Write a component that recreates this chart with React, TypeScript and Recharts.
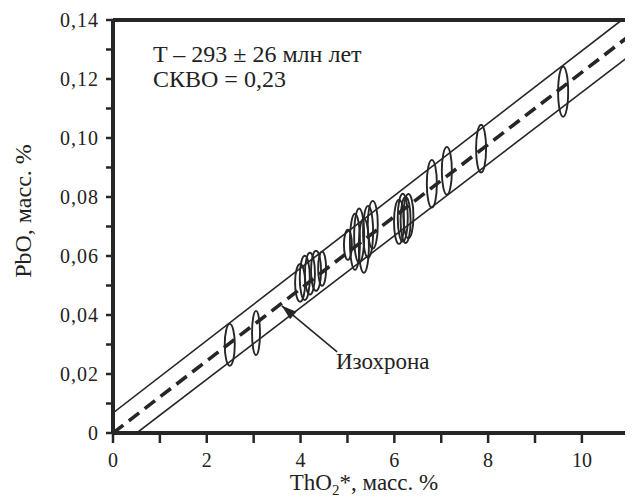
import * as R from 'recharts';

const { ScatterChart, Scatter, XAxis, YAxis, ReferenceLine } = R;

// axis setup
const X_MAX = 11.09;
const Y_MAX = 0.14;
const xTicks = [0, 1, 2, 3, 4, 5, 6, 7, 8, 9, 10];
const xTickLabels = ['0', '', '2', '', '4', '', '6', '', '8', '', '10'];
const yTicks = [0, 0.01, 0.02, 0.03, 0.04, 0.05, 0.06, 0.07, 0.08, 0.09, 0.1, 0.11, 0.12, 0.13, 0.14];
const yTickLabels = ['0', '', '0,02', '', '0,04', '', '0,06', '', '0,08', '', '0,10', '', '0,12', '', '0,14'];

// analyses: centre (ThO2*, PbO) and 2-sigma half-widths
const ellipses = [
  { x: 2.49, y: 0.0299, rx: 0.107, ry: 0.0071 },
  { x: 3.05, y: 0.0339, rx: 0.085, ry: 0.0075 },
  { x: 3.99, y: 0.0509, rx: 0.107, ry: 0.0064 },
  { x: 4.09, y: 0.0526, rx: 0.107, ry: 0.0075 },
  { x: 4.2, y: 0.054, rx: 0.107, ry: 0.0071 },
  { x: 4.33, y: 0.055, rx: 0.107, ry: 0.0068 },
  { x: 4.46, y: 0.0557, rx: 0.085, ry: 0.0058 },
  { x: 5.01, y: 0.0638, rx: 0.085, ry: 0.0051 },
  { x: 5.16, y: 0.0648, rx: 0.107, ry: 0.0095 },
  { x: 5.25, y: 0.0669, rx: 0.107, ry: 0.0092 },
  { x: 5.35, y: 0.0635, rx: 0.107, ry: 0.0092 },
  { x: 5.44, y: 0.0682, rx: 0.107, ry: 0.0088 },
  { x: 5.54, y: 0.0706, rx: 0.107, ry: 0.0081 },
  { x: 6.1, y: 0.0716, rx: 0.107, ry: 0.0075 },
  { x: 6.18, y: 0.073, rx: 0.107, ry: 0.0081 },
  { x: 6.24, y: 0.0722, rx: 0.107, ry: 0.0078 },
  { x: 6.3, y: 0.0735, rx: 0.107, ry: 0.0075 },
  { x: 6.8, y: 0.0845, rx: 0.107, ry: 0.0081 },
  { x: 7.12, y: 0.0889, rx: 0.107, ry: 0.0081 },
  { x: 7.85, y: 0.0964, rx: 0.107, ry: 0.0081 },
  { x: 9.6, y: 0.1157, rx: 0.107, ry: 0.0085 },
];

// isochron and its error envelope (end points)
const isochron = [{ x: 0, y: 0 }, { x: 11.09, y: 0.1356 }];
const upperBound = [{ x: 0, y: 0.0068 }, { x: 10.85, y: 0.14 }];
const lowerBound = [{ x: 0.505, y: 0 }, { x: 11.09, y: 0.1288 }];

// pointer to the isochron
const arrowLine = [{ x: 4.78, y: 0.0275 }, { x: 3.6, y: 0.0431 }];
const arrowTip = [{ x: 3.6, y: 0.0431 }];
const ARROW_ANGLE = -140;

const INK = '#262626';
const FONT = '"Liberation Serif", "DejaVu Serif", "Times New Roman", serif';

const usePlotAreaSafe: () => any = (R as any).usePlotArea || (() => undefined);

function EllipseMark(props: any) {
  const area = usePlotAreaSafe();
  const { cx, cy, payload } = props;
  if (cx == null || cy == null) return null;
  const w = area?.width ?? 520;
  const h = area?.height ?? 413;
  return (
    <ellipse
      cx={cx}
      cy={cy}
      rx={(payload.rx * w) / X_MAX}
      ry={(payload.ry * h) / Y_MAX}
      fill="none"
      stroke={INK}
      strokeWidth={1.9}
    />
  );
}

function ArrowHead(props: any) {
  const { cx, cy } = props;
  if (cx == null) return null;
  return (
    <polygon
      points="0,0 -15,-5 -15,5"
      fill={INK}
      transform={`translate(${cx},${cy}) rotate(${ARROW_ANGLE})`}
    />
  );
}

const noDot = () => <g />;

const labelFor = (ticks: number[], labels: string[]) => (v: number) => {
  const i = ticks.findIndex((t) => Math.abs(t - v) < 1e-9);
  return i >= 0 ? labels[i] : '';
};

export default function App() {
  const tickStyle = { fill: '#222', fontSize: 20, style: { fontFamily: FONT } };
  return (
    <div style={{ position: 'relative', width: 625, height: 491, fontFamily: FONT }}>
      <ScatterChart width={625} height={491} margin={{ top: 12, right: 0, bottom: 0, left: 0 }}>
        <XAxis
          type="number"
          dataKey="x"
          domain={[0, X_MAX]}
          ticks={xTicks}
          interval={0}
          allowDataOverflow
          tickFormatter={labelFor(xTicks, xTickLabels)}
          height={66}
          tickSize={10}
          tickMargin={10}
          axisLine={{ stroke: INK, strokeWidth: 4 }}
          tickLine={{ stroke: INK, strokeWidth: 2.5 }}
          tick={tickStyle}
        />
        <YAxis
          type="number"
          dataKey="y"
          domain={[0, Y_MAX]}
          ticks={yTicks}
          interval={0}
          allowDataOverflow
          tickFormatter={labelFor(yTicks, yTickLabels)}
          width={105}
          tickSize={7}
          tickMargin={7}
          axisLine={{ stroke: INK, strokeWidth: 4 }}
          tickLine={{ stroke: INK, strokeWidth: 2.5 }}
          tick={{ ...tickStyle, letterSpacing: 1 }}
        />
        <ReferenceLine y={Y_MAX} stroke={INK} strokeWidth={4} />
        <Scatter data={ellipses} shape={(p: any) => <EllipseMark {...p} />} isAnimationActive={false} />
        <Scatter data={upperBound} line={{ stroke: INK, strokeWidth: 1.6 }} shape={noDot} isAnimationActive={false} />
        <Scatter data={lowerBound} line={{ stroke: INK, strokeWidth: 1.6 }} shape={noDot} isAnimationActive={false} />
        <Scatter
          data={isochron}
          line={{ stroke: INK, strokeWidth: 3.6, strokeDasharray: '13 7' }}
          shape={noDot}
          isAnimationActive={false}
        />
        <Scatter data={arrowLine} line={{ stroke: INK, strokeWidth: 1.6 }} shape={noDot} isAnimationActive={false} />
        <Scatter data={arrowTip} shape={(p: any) => <ArrowHead {...p} />} isAnimationActive={false} />
      </ScatterChart>
      <svg
        width={625}
        height={491}
        style={{ position: 'absolute', left: 0, top: 0, pointerEvents: 'none', fontFamily: FONT }}
        fill="#222"
      >
        <text x={145} y={54} fontSize={24}>T – 293 ± 26 млн лет</text>
        <text x={145} y={79} fontSize={24}>СКВО = 0,23</text>
        <text x={328} y={361} fontSize={23}>Изохрона</text>
        <text x={356} y={482} fontSize={23} textAnchor="middle">
          ThO<tspan fontSize={15} dy={5}>2</tspan>
          <tspan dy={-5}>*, масс. %</tspan>
        </text>
        <text x={23} y={203} fontSize={24} textAnchor="middle" transform="rotate(-90 23 203)">
          PbO, масс. %
        </text>
      </svg>
    </div>
  );
}
